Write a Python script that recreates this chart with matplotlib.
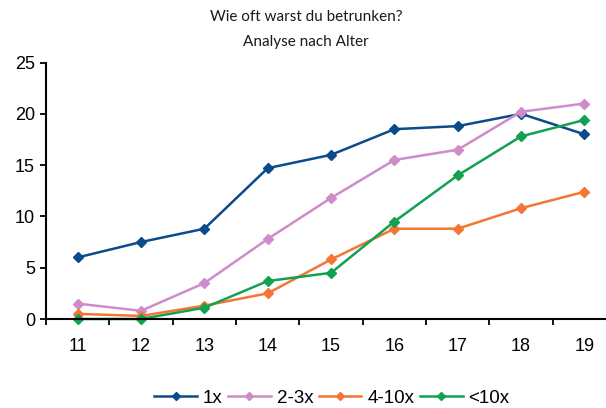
import matplotlib
matplotlib.use("Agg")
import matplotlib.pyplot as plt
import numpy as np

plt.rcParams["font.family"] = ["Liberation Sans", "DejaVu Sans"]

ages = ["11", "12", "13", "14", "15", "16", "17", "18", "19"]
s_1x = [6.0, 7.5, 8.8, 14.7, 16.0, 18.5, 18.8, 20.0, 18.0]
s_2_3x = [1.5, 0.8, 3.5, 7.8, 11.8, 15.5, 16.5, 20.2, 21.0]
s_4_10x = [0.5, 0.3, 1.3, 2.5, 5.8, 8.8, 8.8, 10.8, 12.4]
s_gt10x = [0.0, 0.0, 1.1, 3.7, 4.5, 9.5, 14.0, 17.8, 19.4]
labels = ["1x", "2-3x", "4-10x", "<10x"]
colors = ["#0b4a8b", "#cf8ccb", "#f47535", "#12a150"]
yticks = [0, 5, 10, 15, 20, 25]

fig = plt.figure(figsize=(6.06, 4.08), dpi=100)
ax = fig.add_axes([46/606, 1-319/408, (606-46)/606, (319-62.5)/408])
x = np.arange(len(ages))
for s, lab, c in zip([s_1x, s_2_3x, s_4_10x, s_gt10x], labels, colors):
    ax.plot(x, s, color=c, lw=1.8, marker="D", ms=5.2, label=lab, clip_on=False)

ax.set_xlim(-0.5, 8.34)
ax.set_ylim(0, 25)
ax.set_yticks(yticks)
ax.set_yticklabels([str(v) for v in yticks], fontsize=13)
ax.set_xticks(x)
ax.set_xticklabels(ages, fontsize=13)
ax.set_xticks(np.arange(-0.5, 8.5, 1), minor=True)
ax.tick_params(axis="x", which="major", length=0, pad=13.5)
ax.tick_params(axis="x", which="minor", length=4, width=1.3, direction="out")
ax.tick_params(axis="y", length=4.5, width=1.3, direction="out", pad=3.5)
for sp in ["top", "right"]:
    ax.spines[sp].set_visible(False)
for sp in ["left", "bottom"]:
    ax.spines[sp].set_linewidth(1.5)

fig.text(0.505, 1-17/408, "Wie oft warst du betrunken?", ha="center", va="center",
         fontsize=11, family="Lato", color="#1a1a1a")
fig.text(0.505, 1-42/408, "Analyse nach Alter", ha="center", va="center",
         fontsize=11, family="Lato", color="#1a1a1a")

leg = fig.legend(loc="center", bbox_to_anchor=(0.548, 1-398/408), ncol=4, frameon=False,
                 prop={"size": 13.5}, handlelength=2.25,
                 columnspacing=0.32, handletextpad=0.32, markerscale=0.8,
                 borderpad=0, borderaxespad=0)

fig.savefig("out.png", dpi=100)
